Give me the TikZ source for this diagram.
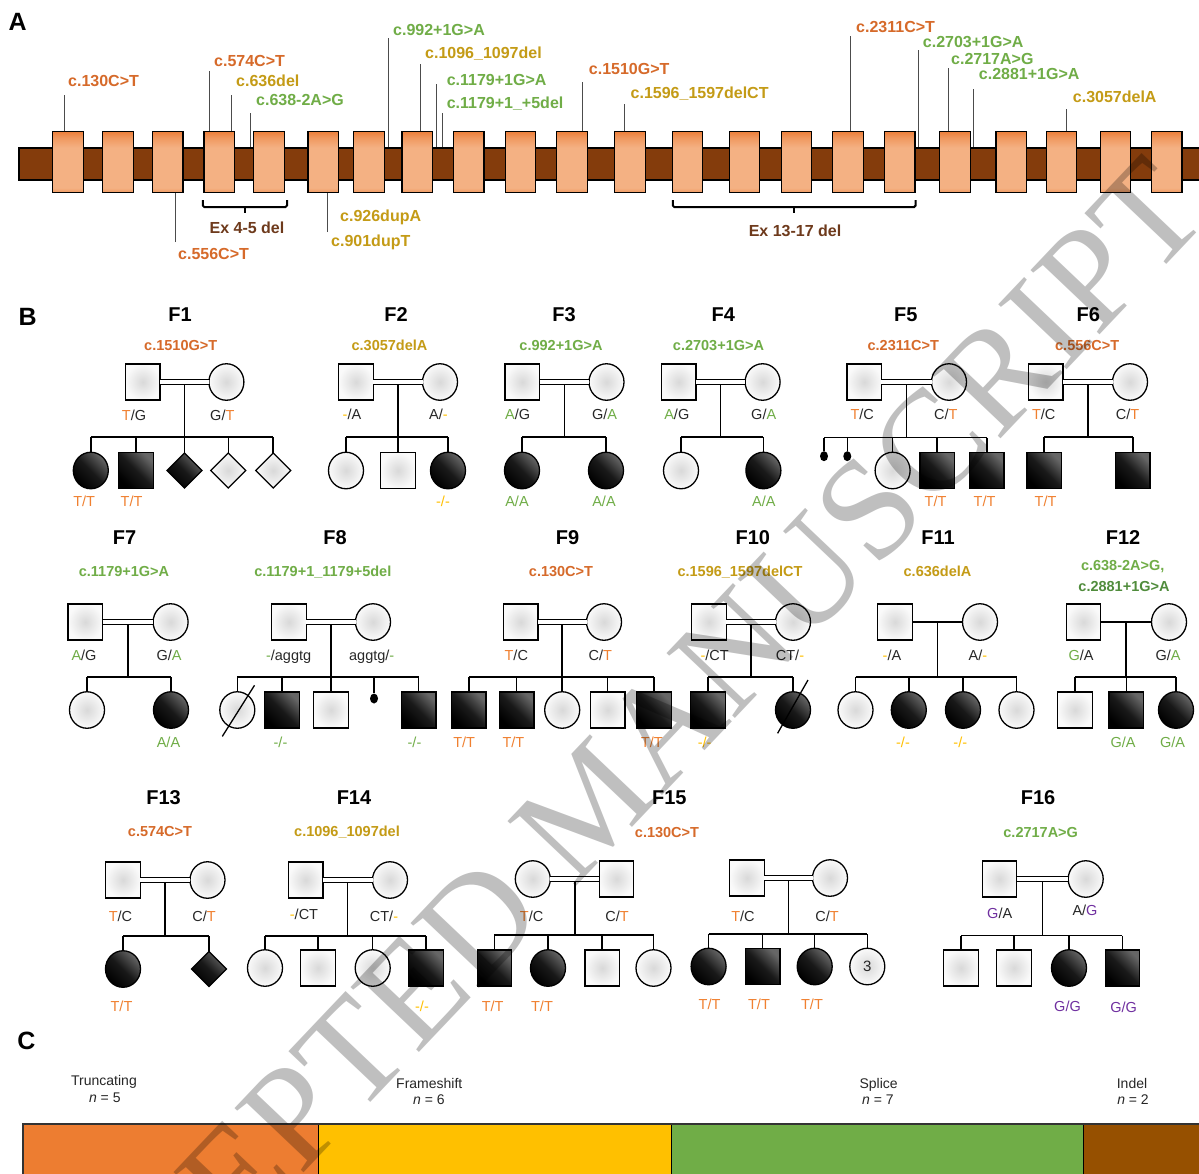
\documentclass[tikz,border=0pt]{standalone}
\usepackage{fontspec}
\setmainfont{Liberation Sans}
\newfontfamily\wmfont{Liberation Serif}
\usetikzlibrary{shapes.geometric,calc}

\definecolor{mutO}{RGB}{214,106,42}
\definecolor{mutY}{RGB}{196,155,22}
\definecolor{mutG}{RGB}{112,173,71}
\definecolor{mutGd}{RGB}{80,140,60}
\definecolor{genO}{RGB}{240,128,48}
\definecolor{genY}{RGB}{255,192,0}
\definecolor{genG}{RGB}{112,173,71}
\definecolor{genP}{RGB}{112,48,160}
\definecolor{gtxt}{RGB}{40,40,40}
\definecolor{labBr}{RGB}{110,58,28}
\definecolor{barBr}{RGB}{132,60,12}
\definecolor{exL}{RGB}{244,177,131}
\definecolor{exD}{RGB}{236,128,60}
\definecolor{exM}{RGB}{240,152,95}
\definecolor{cO}{RGB}{237,125,49}
\definecolor{cY}{RGB}{255,192,0}
\definecolor{cG}{RGB}{112,173,71}
\definecolor{cB}{RGB}{150,80,0}

\pgfdeclareverticalshading{exonsh}{100bp}{color(0bp)=(exM); color(25bp)=(exM); color(29bp)=(exL);
  color(62bp)=(exL); color(70bp)=(exM); color(75bp)=(exD); color(100bp)=(exD)}

\newcommand\gO[1]{\textcolor{genO}{#1}}
\newcommand\gY[1]{\textcolor{genY}{#1}}
\newcommand\gG[1]{\textcolor{genG}{#1}}
\newcommand\gP[1]{\textcolor{genP}{#1}}

\newcommand\pSq[4]{\node[sq,#4] (#1) at (#2,#3) {};}
\newcommand\pCi[4]{\node[ci,#4] (#1) at (#2,#3) {};}
\newcommand\pDi[4]{\node[di,#4] (#1) at (#2,#3) {};}
% #1 prefix, #2 left spouse, #3 right spouse, #4 sibship y, #5 first child, #6 last child, #7 children, #8 marriage style
\newcommand\famconn[8]{%
  \coordinate (#1mid) at ($(#2.east)!.5!(#3.west)$);
  \coordinate (#1sib) at (#1mid |- 0,#4);
  \draw[pl] (#1mid) -- (#1sib);
  \draw[pl] (#5.north |- #1sib) -- (#6.north |- #1sib);
  \foreach \c in {#7} {\draw[pl] (\c.north |- #1sib) -- (\c.north);}
  \draw[pl,#8] (#2.east) -- (#3.west);
}

\begin{document}
\begin{tikzpicture}[x=1pt,y=-1pt,
  sym/.style={draw=black, line width=1.3pt, inner sep=0pt, outer sep=0pt},
  sq/.style={sym, rectangle, minimum width=34.5pt, minimum height=36pt},
  ci/.style={sym, ellipse, minimum width=35pt, minimum height=36.5pt},
  di/.style={sym, diamond, aspect=1, minimum width=35pt, minimum height=35pt},
  un/.style={inner color=black!15, outer color=black!2},
  af/.style={top color=black!60, bottom color=black, middle color=black!90, shading angle=-45},
  dot/.style={ellipse, fill=black, minimum width=8pt, minimum height=10pt, inner sep=0pt},
  pl/.style={line width=1.5pt, black},
  dbl/.style={double, double distance=3.6pt, line width=1.3pt},
  sgl/.style={},
  gt/.style={font=\fontsize{14.5}{17}\selectfont, text=gtxt, inner sep=0pt, anchor=base, yshift=-5pt},
  mut/.style={font=\fontsize{14.5}{17}\selectfont\bfseries, inner sep=0pt, anchor=base, yshift=-5pt},
  ttl/.style={font=\fontsize{20}{24}\selectfont\bfseries, inner sep=0pt, anchor=base, yshift=-6.9pt},
  pan/.style={font=\fontsize{25}{30}\selectfont\bfseries, inner sep=0pt, anchor=base, yshift=-8.6pt},
  alab/.style={font=\fontsize{16}{19}\selectfont\bfseries, inner sep=0pt, anchor=base west, yshift=-5.5pt},
  clab/.style={font=\fontsize{14}{17}\selectfont, inner sep=0pt, anchor=base, yshift=-4.8pt, text=black!85},
  mline/.style={line width=0.9pt, black!70},
  brk/.style={line width=2pt, black, rounded corners=1.5pt},
  exon/.style={rectangle, draw, line width=1.2pt, minimum width=30.5pt, minimum height=61pt, inner sep=0pt,
               shade, shading=exonsh}
]
\path[use as bounding box] (0,0) rectangle (1199,1173);
\fill[white] (0,0) rectangle (1199,1173);
\clip (0,0) rectangle (1199,1173);

% ================= Panel A =================
\node[pan] (pA) at (17.6,22) {A};
\node[draw, line width=1.2pt, fill=barBr, minimum width=1215pt, minimum height=32pt, inner sep=0pt, anchor=west] (gene) at (18.4,164) {};
\foreach \i/\x in {1/67.9, 2/117.9, 3/167.8, 4/219.3, 5/269, 6/323.2, 7/369.1, 8/417.2, 9/468.8, 10/520.4, 11/572.1,
   12/630, 13/687.6, 14/744.4, 15/796.5, 16/847.9, 17/899.8, 18/955, 19/1011.3, 20/1061.6, 21/1115.5, 22/1166.7}
  {\node[exon] (e\i) at (\x,162.2) {};}

\foreach \n/\x/\y/\e in {a1/64/95/e1, a2/209.7/71/e4, a3/231/95/e4, a4/420/64/e8, a5/582.5/82/e11,
   a6/624.2/104/e12, a7/850.8/36/e16, a8/948.7/68/e18, a9/1066.4/109/e20}
  {\coordinate (\n) at (\x,\y); \draw[mline] (\n) -- (\n |- \e.north);}
\foreach \n/\x/\y in {b1/250.7/113, b2/388.4/38, b3/436.3/84, b4/442/113, b5/918.3/50, b6/973.6/89}
  {\coordinate (\n) at (\x,\y); \draw[mline] (\n) -- (\n |- gene.north);}
\coordinate (bl1) at (175.7,242); \draw[mline] (bl1) -- (bl1 |- e3.south);
\coordinate (bl2) at (327,232); \draw[mline] (bl2) -- (bl2 |- e6.south);

\node[alab,text=mutO] (L1) at (68,81) {c.130C>T};
\node[alab,text=mutO] (L2) at (214,60.5) {c.574C>T};
\node[alab,text=mutY] (L3) at (236,81) {c.636del};
\node[alab,text=mutG] (L4) at (256,100) {c.638-2A>G};
\node[alab,text=mutO] (L5) at (178,254) {c.556C>T};
\node[alab,text=mutY] (L6) at (340,216) {c.926dupA};
\node[alab,text=mutY] (L7) at (331,241) {c.901dupT};
\node[alab,text=mutG] (L8) at (393,29.5) {c.992+1G>A};
\node[alab,text=mutY] (L9) at (425,53) {c.1096\_1097del};
\node[alab,text=mutG] (L10) at (446.6,80) {c.1179+1G>A};
\node[alab,text=mutG] (L11) at (446.6,103) {c.1179+1\_+5del};
\node[alab,text=mutO] (L12) at (588.7,69) {c.1510G>T};
\node[alab,text=mutY] (L13) at (630.5,93) {c.1596\_1597delCT};
\node[alab,text=mutO] (L14) at (856,27) {c.2311C>T};
\node[alab,text=mutG] (L15) at (922.7,42) {c.2703+1G>A};
\node[alab,text=mutG] (L16) at (951,59) {c.2717A>G};
\node[alab,text=mutG] (L17) at (978.7,74) {c.2881+1G>A};
\node[alab,text=mutY] (L18) at (1072.7,96.7) {c.3057delA};

\coordinate (k1l) at (202.8,207); \coordinate (k1r) at (287,207);
\draw[brk] ([yshift=7pt]k1l) -- (k1l) -- (k1r) -- ([yshift=7pt]k1r);
\draw[brk] ($(k1l)!.5!(k1r)$) -- ++(0,6);
\node[alab,anchor=base,text=labBr] (X1) at (247,227.5) {Ex 4-5 del};
\coordinate (k2l) at (672.8,207); \coordinate (k2r) at (915.6,207);
\draw[brk] ([yshift=7pt]k2l) -- (k2l) -- (k2r) -- ([yshift=7pt]k2r);
\draw[brk] ($(k2l)!.5!(k2r)$) -- ++(0,6);
\node[alab,anchor=base,text=labBr] (X2) at (795,231) {Ex 13-17 del};

% ================= Panel B =================
\node[pan] (pB) at (27.7,316.5) {B};

% F1
\node[ttl] (t1) at (180,315) {F1};
\node[mut,text=mutO] (m1) at (180.7,345.5) {c.1510G>T};
\pSq{f1f}{142.8}{382}{un} \pCi{f1m}{226.4}{382}{un}
\pCi{f1c1}{90.8}{470.5}{af} \pSq{f1c2}{136}{470.5}{af} \pDi{f1c3}{184.5}{470.5}{af}
\pDi{f1c4}{228.3}{470.5}{un} \pDi{f1c5}{273.2}{470.5}{un}
\famconn{f1}{f1f}{f1m}{437}{f1c1}{f1c5}{f1c1,f1c2,f1c3,f1c4,f1c5}{dbl}
\node[gt] (g1a) at (134,415) {\gO{T}/G};
\node[gt] (g1b) at (222.3,415) {G/\gO{T}};
\node[gt] (g1c) at (84.2,501.7) {\gO{T/T}};
\node[gt] (g1d) at (131.6,501.7) {\gO{T/T}};

% F2
\node[ttl] (t2) at (396,315) {F2};
\node[mut,text=mutY] (m2) at (389.5,345.5) {c.3057delA};
\pSq{f2f}{356}{382}{un} \pCi{f2m}{440}{382}{un}
\pCi{f2c1}{346}{470.5}{un} \pSq{f2c2}{398}{470.5}{un} \pCi{f2c3}{448}{470.5}{af}
\famconn{f2}{f2f}{f2m}{437}{f2c1}{f2c3}{f2c1,f2c2,f2c3}{dbl}
\node[gt] (g2a) at (352,414) {\gY{-}/A};
\node[gt] (g2b) at (438.5,414) {A/\gY{-}};
\node[gt] (g2c) at (443,501.7) {\gY{-/-}};

% F3
\node[ttl] (t3) at (564,315) {F3};
\node[mut,text=mutG] (m3) at (561,345.5) {c.992+1G>A};
\pSq{f3f}{522.3}{382}{un} \pCi{f3m}{606.5}{382}{un}
\pCi{f3c1}{522}{470.5}{af} \pCi{f3c2}{606}{470.5}{af}
\famconn{f3}{f3f}{f3m}{437}{f3c1}{f3c2}{f3c1,f3c2}{dbl}
\node[gt] (g3a) at (517.7,414) {\gG{A}/G};
\node[gt] (g3b) at (604.5,414) {G/\gG{A}};
\node[gt] (g3c) at (517,501.7) {\gG{A/A}};
\node[gt] (g3d) at (604,501.7) {\gG{A/A}};

% F4
\node[ttl] (t4) at (723.4,315) {F4};
\node[mut,text=mutG] (m4) at (718.5,345.5) {c.2703+1G>A};
\pSq{f4f}{678.7}{382}{un} \pCi{f4m}{762.6}{382}{un}
\pCi{f4c1}{681}{470.5}{un} \pCi{f4c2}{763.4}{470.5}{af}
\famconn{f4}{f4f}{f4m}{437}{f4c1}{f4c2}{f4c1,f4c2}{dbl}
\node[gt] (g4a) at (676.8,414) {\gG{A}/G};
\node[gt] (g4b) at (763.7,414) {G/\gG{A}};
\node[gt] (g4c) at (763.8,501.7) {\gG{A/A}};

% F5
\node[ttl] (t5) at (905.7,315) {F5};
\node[mut,text=mutO] (m5) at (903.3,345) {c.2311C>T};
\pSq{f5f}{864.2}{382}{un} \pCi{f5m}{949}{382}{un}
\node[dot] (f5d1) at (824,456.2) {};
\node[dot] (f5d2) at (847.3,456.2) {};
\pCi{f5c1}{892.6}{470.5}{un} \pSq{f5c2}{937.2}{470.5}{af} \pSq{f5c3}{986.8}{470.5}{af}
\famconn{f5}{f5f}{f5m}{437.5}{f5d1}{f5c3}{f5d1,f5d2,f5c1,f5c2,f5c3}{dbl}
\node[gt] (g5a) at (862.2,414) {\gO{T}/C};
\node[gt] (g5b) at (945.8,414) {C/\gO{T}};
\node[gt] (g5c) at (935.5,501.7) {\gO{T/T}};
\node[gt] (g5d) at (984.5,501.7) {\gO{T/T}};

% F6
\node[ttl] (t6) at (1088.3,315) {F6};
\node[mut,text=mutO] (m6) at (1087.2,345) {c.556C>T};
\pSq{f6f}{1045.8}{382}{un} \pCi{f6m}{1130}{382}{un}
\pSq{f6c1}{1044.2}{470.5}{af} \pSq{f6c2}{1132.8}{470.5}{af}
\famconn{f6}{f6f}{f6m}{437}{f6c1}{f6c2}{f6c1,f6c2}{dbl}
\node[gt] (g6a) at (1043.7,414) {\gO{T}/C};
\node[gt] (g6b) at (1127.5,414) {C/\gO{T}};
\node[gt] (g6c) at (1045.5,501.7) {\gO{T/T}};

% F7
\node[ttl] (t7) at (124.5,537.5) {F7};
\node[mut,text=mutG] (m7) at (124,571) {c.1179+1G>A};
\pSq{f7f}{85.3}{622}{un} \pCi{f7m}{170.6}{622}{un}
\pCi{f7c1}{87}{710}{un} \pCi{f7c2}{171}{710}{af}
\famconn{f7}{f7f}{f7m}{677}{f7c1}{f7c2}{f7c1,f7c2}{dbl}
\node[gt] (g7a) at (84,655) {\gG{A}/G};
\node[gt] (g7b) at (169,655) {G/\gG{A}};
\node[gt] (g7c) at (168.5,742.5) {\gG{A/A}};

% F8
\node[ttl] (t8) at (335,537.5) {F8};
\node[mut,text=mutG] (m8) at (322.8,571) {c.1179+1\_1179+5del};
\pSq{f8f}{289}{622}{un} \pCi{f8m}{373}{622}{un}
\pCi{f8c1}{237.3}{710}{un} \pSq{f8c2}{282}{710}{af} \pSq{f8c3}{331}{710}{un}
\node[dot] (f8c4) at (374,698.5) {};
\pSq{f8c5}{418.7}{710}{af}
\famconn{f8}{f8f}{f8m}{677}{f8c1}{f8c5}{f8c1,f8c2,f8c3,f8c4,f8c5}{dbl}
\draw[line width=1.3pt] ($(f8c1)+(-15,26.4)$) -- ($(f8c1)+(17.2,-24.7)$);
\node[gt] (g8a) at (288.6,655) {\gG{-}/aggtg};
\node[gt] (g8b) at (371.7,655) {aggtg/\gG{-}};
\node[gt] (g8c) at (280.5,742.5) {\gG{-/-}};
\node[gt] (g8d) at (414.5,742.5) {\gG{-/-}};

% F9
\node[ttl] (t9) at (567.5,537.5) {F9};
\node[mut,text=mutO] (m9) at (561,571) {c.130C>T};
\pSq{f9f}{520.7}{622}{un} \pCi{f9m}{604}{622}{un}
\pSq{f9c1}{468.8}{710}{af} \pSq{f9c2}{516.7}{710}{af} \pCi{f9c3}{562.2}{710}{un}
\pSq{f9c4}{607.6}{710}{un} \pSq{f9c5}{654}{710}{af}
\famconn{f9}{f9f}{f9m}{677}{f9c1}{f9c5}{f9c1,f9c2,f9c3,f9c4,f9c5}{dbl}
\node[gt] (g9a) at (516.3,655) {\gO{T}/C};
\node[gt] (g9b) at (600.4,655) {C/\gO{T}};
\node[gt] (g9c) at (464.2,742.5) {\gO{T/T}};
\node[gt] (g9d) at (513.4,742.5) {\gO{T/T}};
\node[gt] (g9e) at (651.8,742.5) {\gO{T/T}};

% F10
\node[ttl] (t10) at (752.8,537.5) {F10};
\node[mut,text=mutY] (m10) at (740,571) {c.1596\_1597delCT};
\pSq{f10f}{709}{622}{un} \pCi{f10m}{793}{622}{un}
\pSq{f10c1}{708}{710}{af} \pCi{f10c2}{793}{710}{af}
\famconn{f10}{f10f}{f10m}{677}{f10c1}{f10c2}{f10c1,f10c2}{dbl}
\draw[line width=1.3pt] ($(f10c2)+(-15.4,23.3)$) -- ($(f10c2)+(15,-30)$);
\node[gt] (g10a) at (714.6,655) {\gY{-}/CT};
\node[gt] (g10b) at (790,655) {CT/\gY{-}};
\node[gt] (g10c) at (704.6,742.5) {\gY{-/-}};

% F11
\node[ttl] (t11) at (938,537.5) {F11};
\node[mut,text=mutY] (m11) at (937.5,571) {c.636delA};
\pSq{f11f}{895}{622}{un} \pCi{f11m}{980}{622}{un}
\pCi{f11c1}{855.5}{710}{un} \pCi{f11c2}{908.8}{710}{af} \pCi{f11c3}{963}{710}{af} \pCi{f11c4}{1016.5}{710}{un}
\famconn{f11}{f11f}{f11m}{677}{f11c1}{f11c4}{f11c1,f11c2,f11c3,f11c4}{sgl}
\node[gt] (g11a) at (892,655) {\gY{-}/A};
\node[gt] (g11b) at (978,655) {A/\gY{-}};
\node[gt] (g11c) at (903,742.5) {\gY{-/-}};
\node[gt] (g11d) at (960.3,742.5) {\gY{-/-}};

% F12
\node[ttl] (t12) at (1123,537.5) {F12};
\node[mut,text=mutG] (m12a) at (1122.7,565) {c.638-2A>G,};
\node[mut,text=mutGd] (m12b) at (1124,586) {c.2881+1G>A};
\pSq{f12f}{1083.5}{622}{un} \pCi{f12m}{1169}{622}{un}
\pSq{f12c1}{1075}{710}{un} \pSq{f12c2}{1126.3}{710}{af} \pCi{f12c3}{1176}{710}{af}
\famconn{f12}{f12f}{f12m}{677}{f12c1}{f12c3}{f12c1,f12c2,f12c3}{sgl}
\node[gt] (g12a) at (1081,655) {\gG{G}/A};
\node[gt] (g12b) at (1168,655) {G/\gG{A}};
\node[gt] (g12c) at (1123,742.5) {\gG{G/A}};
\node[gt] (g12d) at (1172.5,742.5) {\gG{G/A}};

% F13
\node[ttl] (t13) at (163.6,798) {F13};
\node[mut,text=mutO] (m13) at (160,831.5) {c.574C>T};
\pSq{f13f}{123}{880}{un} \pCi{f13m}{207.5}{880}{un}
\pCi{f13c1}{123}{969}{af} \pDi{f13c2}{209}{969}{af}
\famconn{f13}{f13f}{f13m}{936}{f13c1}{f13c2}{f13c1,f13c2}{dbl}
\node[gt] (g13a) at (120.5,916.7) {\gO{T}/C};
\node[gt] (g13b) at (204,916.7) {C/\gO{T}};
\node[gt] (g13c) at (121.5,1006.5) {\gO{T/T}};

% F14
\node[ttl] (t14) at (354,798) {F14};
\node[mut,text=mutY] (m14) at (347,831.5) {c.1096\_1097del};
\pSq{f14f}{305.6}{880}{un} \pCi{f14m}{390}{880}{un}
\pCi{f14c1}{265}{968}{un} \pSq{f14c2}{318}{968}{un} \pCi{f14c3}{372.7}{968}{un} \pSq{f14c4}{426}{968}{af}
\famconn{f14}{f14f}{f14m}{936}{f14c1}{f14c4}{f14c1,f14c2,f14c3,f14c4}{dbl}
\node[gt] (g14a) at (304,914) {\gY{-}/CT};
\node[gt] (g14b) at (384,916) {CT/\gY{-}};
\node[gt] (g14c) at (422,1006.5) {\gY{-/-}};

% F15
\node[ttl] (t15) at (669.3,797.5) {F15};
\node[mut,text=mutO] (m15) at (667,832.5) {c.130C>T};
\pCi{f15am}{532.8}{879}{un} \pSq{f15af}{616.5}{879}{un}
\pSq{f15ac1}{494.4}{968}{af} \pCi{f15ac2}{548}{968}{af} \pSq{f15ac3}{602.2}{968}{un} \pCi{f15ac4}{653.5}{968}{un}
\famconn{f15a}{f15am}{f15af}{935}{f15ac1}{f15ac4}{f15ac1,f15ac2,f15ac3,f15ac4}{dbl}
\node[gt] (g15a) at (531.6,916) {\gO{T}/C};
\node[gt] (g15b) at (617,916) {C/\gO{T}};
\node[gt] (g15c) at (492.7,1006) {\gO{T/T}};
\node[gt] (g15d) at (542,1006) {\gO{T/T}};
\pSq{f15bf}{747}{878}{un} \pCi{f15bm}{830}{878}{un}
\pCi{f15bc1}{708.6}{966.5}{af} \pSq{f15bc2}{762.7}{966.5}{af} \pCi{f15bc3}{814.7}{966.5}{af}
\node[ci,un,font=\fontsize{15}{18}\selectfont,text=black!85] (f15bc4) at (867.3,966.5) {3};
\famconn{f15b}{f15bf}{f15bm}{934}{f15bc1}{f15bc4}{f15bc1,f15bc2,f15bc3,f15bc4}{dbl}
\node[gt] (g15e) at (743,916) {\gO{T}/C};
\node[gt] (g15f) at (827,916) {C/\gO{T}};
\node[gt] (g15g) at (709.6,1004) {\gO{T/T}};
\node[gt] (g15h) at (759,1004) {\gO{T/T}};
\node[gt] (g15i) at (812,1004) {\gO{T/T}};

% F16
\node[ttl] (t16) at (1038,797.5) {F16};
\node[mut,text=mutG] (m16) at (1040.7,832) {c.2717A>G};
\pSq{f16f}{999.5}{879}{un} \pCi{f16m}{1085.7}{879}{un}
\pSq{f16c1}{961}{968}{un} \pSq{f16c2}{1014}{968}{un} \pCi{f16c3}{1069}{968}{af} \pSq{f16c4}{1122.4}{968}{af}
\famconn{f16}{f16f}{f16m}{935.5}{f16c1}{f16c4}{f16c1,f16c2,f16c3,f16c4}{dbl}
\node[gt] (g16a) at (999.7,913) {\gP{G}/A};
\node[gt] (g16b) at (1085,910) {A/\gP{G}};
\node[gt] (g16c) at (1067.5,1006) {\gP{G/G}};
\node[gt] (g16d) at (1123.6,1007) {\gP{G/G}};

% ================= Panel C =================
\node[pan] (pC) at (26.3,1040.5) {C};
\draw[line width=0.8pt, fill=cO] (23,1124) rectangle (318,1190);
\draw[line width=0.8pt, fill=cY] (318,1124) rectangle (671,1190);
\draw[line width=0.8pt, fill=cG] (671,1124) rectangle (1083,1190);
\draw[line width=0.8pt, fill=cB] (1083,1124) rectangle (1215,1190);
\draw[line width=1.8pt, black!80] (23,1190) -- (23,1124) -- (1215,1124);
\node[clab] (ct1) at (104,1081) {Truncating};
\node[clab] (cn1) at (104.8,1097.5) {\textit{n} = 5};
\node[clab] (ct2) at (429.3,1083.5) {Frameshift};
\node[clab] (cn2) at (429,1099.5) {\textit{n} = 6};
\node[clab] (ct3) at (878.6,1083.5) {Splice};
\node[clab] (cn3) at (878,1100) {\textit{n} = 7};
\node[clab] (ct4) at (1132,1083.5) {Indel};
\node[clab] (cn4) at (1133,1100) {\textit{n} = 2};

% ================= Watermark =================
\node[font=\wmfont\fontsize{144}{144}\selectfont, text=black, text opacity=0.25, rotate=46.5,
      anchor=base, inner sep=0pt] (wm) at (624,836) {ACCEPTED MANUSCRIPT};
\end{tikzpicture}
\end{document}
